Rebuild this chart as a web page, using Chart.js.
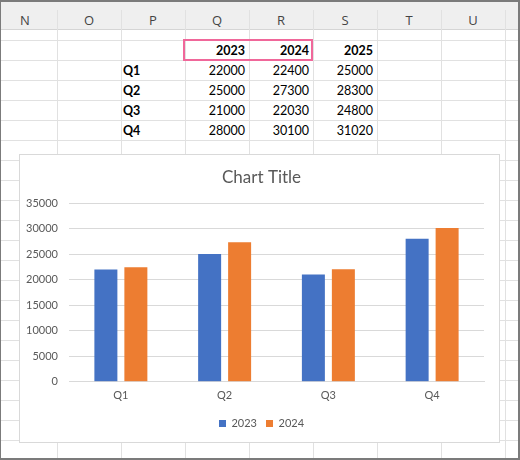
<!DOCTYPE html>
<html>
<head>
<meta charset="utf-8">
<script src="https://cdn.jsdelivr.net/npm/chart.js@4"></script>
<style>
  body { margin: 0; background: #fff; }
  #sheet { position: relative; width: 520px; height: 460px; overflow: hidden; background: #fff; }
  .hdr { position: absolute; left: 0; top: 0; width: 520px; height: 29px; background: #efefef; border-bottom: 1px solid #d5d5d5; }
  .colname { position: absolute; top: 0; height: 29px; width: 64px; text-align: center;
             font: 13px "Open Sans", sans-serif; line-height: 40px; color: #444; }
  .vl { position: absolute; width: 1px; background: #e1e1e1; }
  .hl { position: absolute; height: 1px; left: 0; width: 520px; background: #e1e1e1; }
  .cell { position: absolute; height: 20px; font: 12.5px Lato, sans-serif; line-height: 21px; color: #000; }
  .r { text-align: right; width: 61px; }
  .b { font-weight: bold; }
  #sel { position: absolute; left: 183px; top: 39px; width: 126px; height: 18px; border: 2px solid #f0679a; }
  #chartBox { position: absolute; left: 19px; top: 154px; width: 479px; height: 287px;
              border: 1px solid #d9d9d9; background: #fff; }
  #frame { position: absolute; left: 0; top: 0; width: 520px; height: 460px; box-sizing: border-box;
           border-top: 2px solid #7b7b7b; border-right: 2px solid #7b7b7b; border-bottom: 2px solid #7b7b7b;
           border-left: 1px solid #7b7b7b; pointer-events: none; }
</style>
</head>
<body>
<div id="sheet">
  <div class="hdr"></div>
  <div id="cells"></div>
  <div id="sel"></div>
  <div id="chartBox"><canvas id="barchart" width="479" height="287"></canvas></div>
  <div id="frame"></div>
</div>
<script>
const columns = ['N', 'O', 'P', 'Q', 'R', 'S', 'T', 'U'];
const quarters = ['Q1', 'Q2', 'Q3', 'Q4'];
const years = ['2023', '2024', '2025'];
const sales2023 = [22000, 25000, 21000, 28000];
const sales2024 = [22400, 27300, 22030, 30100];
const sales2025 = [25000, 28300, 24800, 31020];

// spreadsheet grid
const sheet = document.getElementById('cells');
function add(cls, style, text) {
    const d = document.createElement('div');
    d.className = cls;
    Object.assign(d.style, style);
    if (text !== undefined) d.textContent = text;
    sheet.appendChild(d);
}
columns.forEach((c, i) => {
    const left = -7 + i * 64;
    add('colname', { left: left + 'px' }, c);
    add('vl', { left: (left + 64) + 'px', top: '10px', height: '450px' });
});
for (let y = 40; y <= 440; y += 20) {
    add('hl', { top: y + 'px' });
}

// table values
const colQ = 184;
years.forEach((yr, j) => {
    add('cell r b', { left: (colQ + j * 64) + 'px', top: '40px' }, yr);
});
const table = [sales2023, sales2024, sales2025];
quarters.forEach((q, i) => {
    const top = 60 + i * 20;
    add('cell b', { left: '123px', top: top + 'px' }, q);
    table.forEach((series, j) => {
        add('cell r', { left: (colQ + j * 64) + 'px', top: top + 'px' }, series[i]);
    });
});

// chart
const textColor = '#595959';
const ctx = document.getElementById('barchart').getContext('2d');
const barchart = new Chart(ctx, {
    type: 'bar',
    data: {
        labels: quarters,
        datasets: [{
            label: '2023',
            data: sales2023,
            backgroundColor: '#4472C4'
        }, {
            label: '2024',
            data: sales2024,
            backgroundColor: '#ED7D31'
        }]
    },
    options: {
        responsive: false,
        animation: false,
        devicePixelRatio: 1,
        categoryPercentage: 0.578,
        barPercentage: 0.767,
        layout: { padding: { left: 4, right: 0, top: 0, bottom: 3 } },
        plugins: {
            title: {
                display: true,
                text: 'Chart Title',
                color: textColor,
                font: { family: 'Lato', size: 17, weight: 'normal' },
                padding: { top: 12, bottom: 15.6 }
            },
            legend: {
                position: 'bottom',
                labels: {
                    color: textColor,
                    boxWidth: 7,
                    boxHeight: 7,
                    padding: 9,
                    font: { family: 'Lato', size: 11 }
                }
            },
            tooltip: { enabled: false }
        },
        scales: {
            x: {
                grid: { display: false, drawTicks: false },
                border: { display: true, color: '#d9d9d9' },
                ticks: { color: textColor, padding: 7, font: { family: 'Lato', size: 11 } }
            },
            y: {
                min: 0,
                max: 35000,
                afterFit: function(scale) { scale.width = 45; },
                grid: { color: '#d9d9d9', drawTicks: false },
                border: { display: false },
                ticks: {
                    stepSize: 5000,
                    color: textColor,
                    padding: 11,
                    font: { family: 'Lato', size: 11 },
                    callback: value => String(value)
                }
            },
            // empty right-hand margin so the legend and title stay centred
            y2: {
                position: 'right',
                min: 0,
                max: 35000,
                afterFit: function(scale) { scale.width = 15; },
                grid: { display: false, drawTicks: false },
                border: { display: false },
                ticks: { display: false }
            }
        }
    }
});
</script>
</body>
</html>
